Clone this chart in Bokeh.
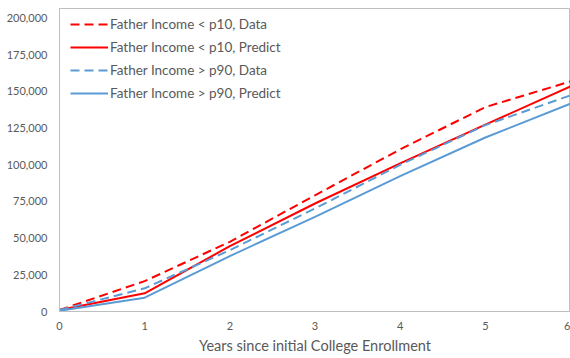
from bokeh.plotting import figure
from bokeh.models import Range1d, NumeralTickFormatter, FixedTicker, Legend, LegendItem
from bokeh.embed import file_html
from bokeh.resources import INLINE

years = [0, 1, 2, 3, 4, 5, 6]
p10_data = [1000, 20700, 47500, 79200, 110500, 139300, 156800]
p10_predict = [1000, 12400, 44500, 73600, 101000, 127300, 153400]
p90_data = [1000, 15800, 41800, 70200, 100000, 127000, 147300]
p90_predict = [500, 9400, 37800, 64500, 92200, 118600, 141600]
y_ticks = [0, 25000, 50000, 75000, 100000, 125000, 150000, 175000, 200000]
x_ticks = [0, 1, 2, 3, 4, 5, 6]

FONT = "Lato"
GREY = "#595959"
RED = "#ff0000"
BLUE = "#5b9bd5"

p = figure(width=570, height=358, output_backend="svg", toolbar_location=None,
           x_range=Range1d(0, 6), y_range=Range1d(0, 206500))
p.min_border_left = 59
p.min_border_right = 0
p.min_border_top = 8
p.min_border_bottom = 47
p.grid.visible = False
p.outline_line_color = "#bfbfbf"
p.outline_line_width = 1
p.background_fill_color = "white"
p.border_fill_color = "white"

r1 = p.line(years, p10_data, line_color=RED, line_width=2, line_dash="9 5")
r2 = p.line(years, p10_predict, line_color=RED, line_width=2)
r3 = p.line(years, p90_data, line_color=BLUE, line_width=2, line_dash="9 5")
r4 = p.line(years, p90_predict, line_color=BLUE, line_width=2)

for ax in (p.xaxis[0], p.yaxis[0]):
    ax.axis_line_color = "#bfbfbf"
    ax.major_tick_line_color = None
    ax.minor_tick_line_color = None
    ax.major_tick_out = 0
    ax.major_tick_in = 0
    ax.major_label_text_font = FONT
    ax.major_label_text_color = GREY
    ax.major_label_text_font_size = "11px"

p.yaxis.ticker = FixedTicker(ticks=y_ticks)
p.yaxis.formatter = NumeralTickFormatter(format="0,0")
p.yaxis.major_label_standoff = 12
p.xaxis.ticker = FixedTicker(ticks=x_ticks)
p.xaxis.major_label_standoff = 10
p.xaxis.axis_label = "Years since initial College Enrollment"
p.xaxis.axis_label_text_font = FONT
p.xaxis.axis_label_text_font_style = "normal"
p.xaxis.axis_label_text_font_size = "14.5px"
p.xaxis.axis_label_text_color = GREY
p.xaxis.axis_label_standoff = 4

legend = Legend(items=[
    LegendItem(label="Father Income < p10, Data", renderers=[r1]),
    LegendItem(label="Father Income < p10, Predict", renderers=[r2]),
    LegendItem(label="Father Income > p90, Data", renderers=[r3]),
    LegendItem(label="Father Income > p90, Predict", renderers=[r4]),
], location=(11, 208))
legend.border_line_color = None
legend.background_fill_alpha = 0
legend.label_text_font = FONT
legend.label_text_font_size = "13.5px"
legend.label_text_color = GREY
legend.glyph_width = 38
legend.glyph_height = 20
legend.label_height = 20
legend.label_standoff = 2
legend.spacing = 3
legend.padding = 0
legend.margin = 0
p.add_layout(legend)

open("out.html", "w").write(file_html(p, INLINE))
